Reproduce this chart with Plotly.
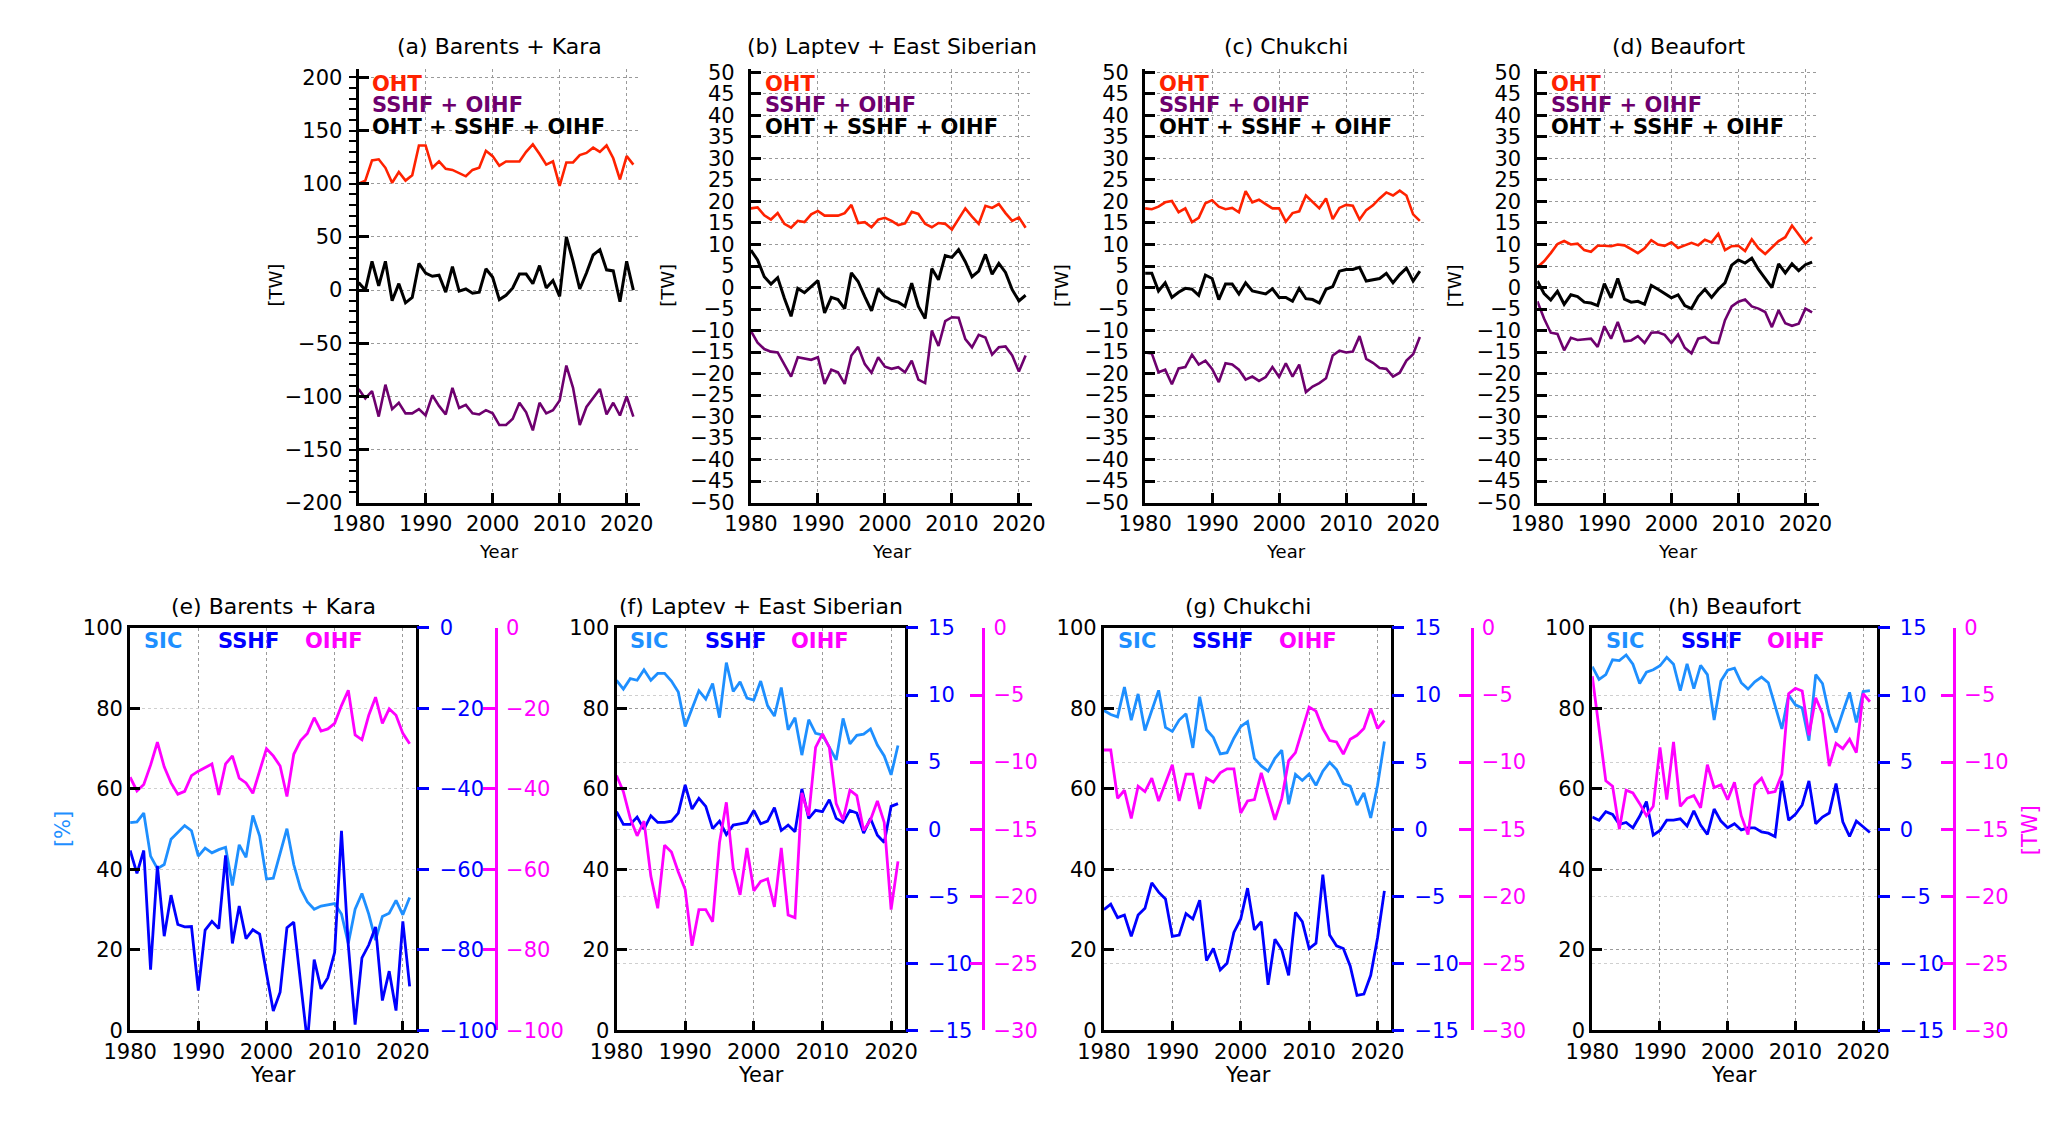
import plotly.graph_objects as go

# ---------------- data ----------------
years = list(range(1980, 2022))

# top row, [TW]
a_oht = [100, 103, 122, 123, 115, 101, 111, 103, 108, 136, 136, 115, 121, 114, 113, 110, 107, 113, 115, 131,
         126, 117, 121, 121, 121, 130, 137, 128, 118, 121, 98, 120, 120, 127, 129, 134, 130, 136, 124, 104,
         126, 118]
a_sum = [-93, -102, -95, -119, -89, -112, -106, -116, -116, -112, -118, -99, -109, -117, -92, -111, -108, -116, -117, -113,
         -116, -127, -127, -121, -106, -115, -132, -106, -116, -113, -104, -71, -92, -127, -110, -101, -93, -117, -106, -118,
         -100, -119]
a_tot = [7, 0, 27, 4, 27, -10, 6, -12, -7, 25, 16, 13, 14, -2, 22, -1, 1, -3, -2, 20,
         12, -9, -5, 2, 15, 15, 6, 23, 2, 9, -6, 50, 27, 1, 16, 33, 38, 19, 18, -11,
         27, 0]

b_oht = [18.4, 18.6, 16.8, 15.8, 17.3, 14.8, 13.9, 15.5, 15.2, 17.0, 17.8, 16.7, 16.7, 16.7, 17.3, 19.2, 15.0, 15.2, 14.0, 15.8,
         16.2, 15.5, 14.5, 14.9, 17.6, 17.1, 14.8, 14.0, 15.0, 14.8, 13.5, 15.8, 18.4, 16.5, 14.8, 19.0, 18.5, 19.4, 17.3, 15.5,
         16.3, 13.9]
b_sum = [-10.1, -12.8, -14.3, -14.9, -15.1, -17.8, -20.7, -16.2, -16.5, -16.8, -16.2, -22.4, -19.1, -19.7, -22.4, -15.8, -13.8, -17.8, -19.8, -16.2,
         -18.4, -18.9, -18.5, -19.7, -17.0, -21.4, -22.2, -10.0, -13.6, -7.8, -6.9, -7.0, -12.0, -13.9, -11.0, -11.6, -15.6, -13.9, -13.7, -15.8,
         -19.5, -15.8]
b_tot = [8.7, 6.4, 2.5, 0.8, 2.3, -2.5, -6.7, -0.2, -1.2, 0.2, 1.6, -5.9, -2.3, -2.8, -4.9, 3.4, 1.4, -2.1, -5.4, -0.3,
         -2.1, -3.0, -3.4, -4.4, 1.0, -4.4, -7.2, 4.4, 1.8, 7.4, 7.0, 8.8, 6.0, 2.5, 3.8, 7.7, 3.1, 5.6, 3.5, -0.5,
         -3.1, -1.8]

c_oht = [18.4, 18.2, 18.8, 19.8, 20.1, 17.5, 18.4, 15.2, 16.2, 19.6, 20.3, 18.8, 18.2, 18.5, 17.5, 22.4, 19.8, 20.4, 19.4, 18.4,
         18.4, 15.3, 17.3, 17.7, 21.4, 19.9, 18.4, 20.7, 15.9, 18.5, 19.2, 19.0, 15.8, 18.0, 19.1, 20.7, 22.1, 21.4, 22.5, 21.4,
         17.0, 15.5]
c_sum = [-15.1, -15.3, -19.7, -19.1, -22.5, -18.8, -18.5, -15.6, -17.9, -17.0, -18.9, -22.0, -17.6, -17.9, -19.1, -21.4, -20.7, -21.7, -20.8, -18.5,
         -20.8, -17.6, -20.7, -17.9, -24.3, -23.0, -22.2, -21.1, -15.8, -14.7, -15.1, -14.9, -11.3, -16.6, -17.5, -18.7, -18.9, -20.7, -19.8, -17.0,
         -15.5, -11.5]
c_tot = [3.3, 3.3, -0.8, 1.1, -2.3, -1.1, -0.2, -0.4, -1.8, 2.9, 2.1, -2.8, 0.8, 0.8, -1.5, 1.1, -0.8, -1.1, -1.5, -0.3,
         -2.3, -2.3, -3.2, -0.2, -2.6, -2.8, -3.6, -0.4, 0.2, 3.8, 4.2, 4.2, 4.7, 1.5, 1.8, 2.1, 3.3, 1.1, 3.0, 4.5,
         1.5, 3.8]

d_oht = [4.7, 6.1, 8.0, 10.1, 10.8, 10.0, 10.2, 8.7, 8.3, 9.7, 9.7, 9.6, 10.0, 9.8, 8.9, 8.0, 9.1, 11.0, 10.0, 9.7,
         10.5, 9.2, 9.8, 10.4, 9.8, 11.1, 10.5, 12.5, 8.7, 9.6, 9.7, 8.5, 11.2, 9.1, 7.8, 9.2, 10.8, 11.7, 14.4, 12.3,
         10.2, 11.7]
d_sum = [-3.2, -7.2, -10.5, -10.8, -14.6, -11.7, -12.2, -12.1, -11.9, -13.8, -9.0, -11.9, -8.0, -12.5, -12.3, -11.3, -12.9, -10.5, -10.4, -11.0,
         -12.9, -10.9, -14.0, -15.3, -11.9, -11.5, -12.8, -12.9, -7.6, -4.4, -3.3, -2.8, -4.4, -4.9, -5.7, -9.2, -5.3, -8.3, -8.9, -8.4,
         -4.9, -5.8]
d_tot = [1.5, -1.4, -2.9, -0.9, -3.9, -1.7, -2.1, -3.4, -3.6, -4.2, 0.9, -2.4, 2.1, -2.7, -3.4, -3.2, -3.9, 0.5, -0.4, -1.4,
         -2.4, -1.7, -4.2, -4.9, -2.1, -0.4, -2.3, -0.4, 1.1, 5.2, 6.4, 5.7, 6.8, 4.2, 2.1, 0.0, 5.5, 3.4, 5.5, 3.9,
         5.3, 5.9]

# bottom row: SIC [%], SSHF and OIHF [TW]
e_sic = [51.6, 51.8, 54.0, 43.3, 40.2, 41.2, 47.5, 49.1, 50.9, 49.6, 43.3, 45.3, 44.1, 44.9, 45.5, 36.0, 46.1, 43.0, 53.4, 48.3,
         37.6, 37.8, 43.9, 50.1, 41.2, 35.2, 31.9, 30.1, 30.9, 31.2, 31.5, 28.9, 21.6, 30.1, 34.0, 28.9, 22.4, 28.3, 29.1, 32.3,
         28.7, 33.0]
e_sshf = [-55.3, -61.0, -55.3, -84.9, -59.1, -76.6, -66.4, -73.7, -74.3, -74.2, -90.1, -75.1, -72.9, -74.7, -56.5, -78.4, -69.1, -77.2, -75.0, -76.1,
          -85.8, -95.2, -90.5, -74.5, -73.1, -88.0, -103.0, -82.4, -89.7, -86.9, -80.6, -50.4, -78.8, -98.6, -82.0, -78.8, -74.3, -92.6, -85.3, -95.1,
          -72.9, -89.1]
e_oihf = [-37.1, -40.5, -38.9, -34.1, -28.4, -34.5, -38.5, -41.3, -40.6, -36.7, -35.6, -34.8, -33.8, -41.5, -33.8, -31.8, -37.3, -38.5, -41.1, -35.5,
          -30.0, -31.8, -34.3, -41.9, -31.4, -28.0, -26.2, -22.3, -25.6, -25.1, -23.7, -19.3, -15.5, -26.6, -27.8, -21.7, -17.2, -23.7, -20.1, -21.7,
          -26.2, -28.8]

f_sic = [87.0, 84.8, 87.4, 87.0, 89.6, 87.0, 88.7, 88.7, 86.8, 84.1, 75.5, 79.9, 84.4, 82.3, 86.2, 77.7, 91.4, 84.2, 86.6, 82.6,
         82.1, 86.8, 80.7, 78.1, 85.2, 74.7, 77.7, 68.4, 77.2, 73.8, 73.4, 70.4, 67.2, 77.5, 71.2, 73.3, 73.6, 74.9, 70.9, 68.2,
         63.5, 70.8]
f_sshf = [1.3, 0.35, 0.35, 0.9, 0.0, 1.0, 0.5, 0.5, 0.6, 1.2, 3.3, 1.5, 2.3, 1.7, 0.04, 0.6, -0.4, 0.3, 0.4, 0.5,
          1.4, 0.4, 0.6, 1.6, -0.1, 0.3, -0.2, 3.0, 0.8, 1.4, 1.3, 2.2, 0.8, 0.5, 1.4, 1.2, -0.3, 0.8, -0.45, -1.0,
          1.7, 1.9]
f_oihf = [-11.0, -12.2, -14.2, -15.5, -14.4, -18.5, -20.9, -16.2, -16.7, -18.2, -19.5, -23.7, -21.0, -21.0, -21.9, -16.0, -13.0, -17.9, -19.9, -16.4,
          -19.6, -18.9, -18.7, -20.8, -16.4, -21.4, -21.6, -12.3, -14.0, -8.9, -7.9, -8.9, -13.1, -14.3, -12.1, -12.5, -15.1, -14.3, -12.9, -14.5,
          -21.0, -17.4]

g_sic = [79.5, 78.5, 77.9, 85.3, 77.1, 83.6, 74.5, 79.5, 84.5, 75.3, 74.3, 77.1, 78.7, 70.2, 82.9, 74.7, 72.8, 68.7, 69.0, 72.6,
         75.5, 76.7, 67.6, 65.7, 64.4, 67.6, 69.6, 56.2, 63.6, 62.1, 63.7, 60.9, 64.4, 66.6, 64.8, 61.3, 60.7, 56.0, 59.0, 52.8,
         60.9, 71.8]
g_sshf = [-6.0, -5.6, -6.6, -6.4, -8.0, -6.4, -5.9, -4.0, -4.7, -5.2, -8.0, -7.9, -6.3, -6.7, -5.3, -9.8, -8.9, -10.5, -10.0, -7.7,
          -6.7, -4.4, -7.5, -6.9, -11.6, -8.2, -9.0, -10.9, -6.2, -6.9, -8.9, -8.5, -3.4, -7.9, -8.7, -8.9, -10.2, -12.4, -12.3, -10.9,
          -8.1, -4.6]
g_oihf = [-9.1, -9.1, -12.7, -12.1, -14.2, -11.8, -12.2, -11.2, -12.9, -11.5, -10.2, -12.9, -10.9, -10.9, -13.5, -11.2, -11.5, -10.8, -10.5, -10.5,
          -13.8, -12.9, -12.8, -10.8, -12.5, -14.3, -12.7, -9.9, -9.3, -7.5, -5.9, -6.2, -7.5, -8.4, -8.5, -9.4, -8.3, -8.0, -7.5, -6.0,
          -7.5, -6.9]

h_sic = [90.4, 87.2, 88.4, 92.1, 91.9, 93.3, 91.0, 86.2, 89.0, 89.6, 90.6, 92.7, 91.0, 84.4, 91.1, 84.9, 90.7, 88.4, 77.1, 86.8,
         89.5, 90.0, 86.4, 84.8, 86.6, 87.8, 86.4, 80.7, 74.9, 83.3, 80.9, 80.1, 72.0, 88.4, 86.2, 78.5, 74.0, 79.1, 84.0, 76.5,
         84.2, 84.4]
h_sshf = [0.9, 0.67, 1.3, 1.1, 0.35, 0.5, 0.1, 0.96, 2.05, -0.45, -0.1, 0.67, 0.67, 0.77, 0.23, 1.37, 0.3, -0.4, 1.5, 0.6,
          0.1, 0.4, -0.06, 0.1, 0.1, -0.2, -0.3, -0.55, 3.6, 0.67, 1.1, 1.8, 3.6, 0.4, 0.9, 1.2, 3.4, 0.55, -0.55, 0.6,
          0.18, -0.25]
h_oihf = [-3.6, -7.6, -11.4, -11.8, -15.0, -12.1, -12.3, -13.1, -14.0, -13.3, -8.9, -12.8, -8.5, -13.3, -12.7, -12.5, -13.4, -10.2, -11.9, -11.7,
          -12.8, -11.5, -14.0, -15.4, -11.7, -11.2, -12.3, -12.2, -10.9, -4.9, -4.5, -4.7, -8.0, -5.2, -6.4, -10.3, -8.6, -9.0, -8.3, -9.3,
          -4.9, -5.5]

top_titles = ['(a) Barents + Kara', '(b) Laptev + East Siberian', '(c) Chukchi', '(d) Beaufort']
bot_titles = ['(e) Barents + Kara', '(f) Laptev + East Siberian', '(g) Chukchi', '(h) Beaufort']
year_ticks = [1980, 1990, 2000, 2010, 2020]

# ---------------- style ----------------
W, H = 2067, 1143
RED = '#ff2200'
PURPLE = '#6e006e'
SIC_C = '#1e8fff'
SSHF_C = '#0000ff'
OIHF_C = '#ff00ff'
GRID = '#9a9a9a'
GRID2 = '#cfcfcf'
FONT = 'DejaVu Sans'


def px(p):
    return p / W


def py(p):
    return 1 - p / H


def sfx(k):
    return '' if k == 1 else str(k)


fig = go.Figure()
layout = {}
ann = []

# ---------------- top row ----------------
top_left = [330, 730, 1132, 1532]
top_w = 287
top_data = [(a_oht, a_sum, a_tot), (b_oht, b_sum, b_tot), (c_oht, c_sum, c_tot), (d_oht, d_sum, d_tot)]
top_range = [[-200, 208], [-50, 50.8], [-50, 50.8], [-50, 50.8]]
top_dtick = [50, 5, 5, 5]

for i in range(4):
    k = i + 1
    L = top_left[i]
    oht, ssum, tot = top_data[i]
    for vals, col, w in [(oht, RED, 2.6), (ssum, PURPLE, 2.6), (tot, 'black', 3)]:
        fig.add_trace(go.Scatter(x=years, y=vals, mode='lines', line=dict(color=col, width=w),
                                 xaxis='x' + sfx(k), yaxis='y' + sfx(k), showlegend=False))
    layout['xaxis' + sfx(k)] = dict(
        domain=[px(L), px(L + top_w)], anchor='y' + sfx(k), range=[1980, 2022],
        tickvals=year_ticks, ticks='inside', ticklen=10, tickwidth=3, tickcolor='black',
        showline=True, linewidth=3, linecolor='black', mirror=False,
        showgrid=True, gridcolor=GRID, griddash='dot', gridwidth=1,
        zeroline=False, tickfont=dict(size=21, color='black'))
    yax = dict(
        domain=[py(493), py(50)], anchor='x' + sfx(k), range=top_range[i],
        dtick=top_dtick[i], tick0=0, ticks='inside', ticklen=10, tickwidth=3, tickcolor='black',
        showline=True, linewidth=3, linecolor='black', ticklabelstandoff=9,
        showgrid=True, gridcolor=GRID, griddash='dot', gridwidth=1,
        zeroline=False, tickfont=dict(size=21, color='black'))
    if i == 0:
        yax['minor'] = dict(dtick=10, ticks='outside', ticklen=7, tickwidth=2, tickcolor='black', showgrid=False)
    layout['yaxis' + sfx(k)] = yax

    ann.append(dict(x=px(L + top_w / 2), y=py(27), text=top_titles[i], font=dict(size=22)))
    ann.append(dict(x=px(L + top_w / 2), y=py(543), text='Year', font=dict(size=18)))
    ann.append(dict(x=px(L - 85), y=py(271), text='[TW]', textangle=-90, font=dict(size=18)))
    ann.append(dict(x=px(L + 12), y=py(65), text='<b>OHT</b>', xanchor='left', font=dict(size=21, color=RED)))
    ann.append(dict(x=px(L + 12), y=py(87), text='<b>SSHF + OIHF</b>', xanchor='left', font=dict(size=21, color=PURPLE)))
    ann.append(dict(x=px(L + 12), y=py(109), text='<b>OHT + SSHF + OIHF</b>', xanchor='left', font=dict(size=21, color='black')))

# ---------------- bottom row ----------------
bot_left = [97, 593, 1090, 1588]
bot_right = [389, 887, 1383, 1878]
mag_pos = [470, 967, 1465, 1957]
bot_data = [(e_sic, e_sshf, e_oihf), (f_sic, f_sshf, f_oihf), (g_sic, g_sshf, g_oihf), (h_sic, h_sshf, h_oihf)]
sshf_range = [[-100, 0], [-15, 15], [-15, 15], [-15, 15]]
sshf_dtick = [20, 5, 5, 5]
oihf_range = [[-100, 0], [-30, 0], [-30, 0], [-30, 0]]
oihf_dtick = [20, 5, 5, 5]

for i in range(4):
    xn = 5 + i
    ys, yb, ym = 5 + 3 * i, 6 + 3 * i, 7 + 3 * i
    L, R = bot_left[i], bot_right[i]
    sic, sshf, oihf = bot_data[i]
    fig.add_trace(go.Scatter(x=years, y=sic, mode='lines', line=dict(color=SIC_C, width=2.8),
                             xaxis=f'x{xn}', yaxis=f'y{ys}', showlegend=False))
    fig.add_trace(go.Scatter(x=years, y=sshf, mode='lines', line=dict(color=SSHF_C, width=2.8),
                             xaxis=f'x{xn}', yaxis=f'y{yb}', showlegend=False))
    fig.add_trace(go.Scatter(x=years, y=oihf, mode='lines', line=dict(color=OIHF_C, width=2.8),
                             xaxis=f'x{xn}', yaxis=f'y{ym}', showlegend=False))

    layout[f'xaxis{xn}'] = dict(
        domain=[px(L), px(R)], anchor=f'y{ys}', range=[1980, 2022],
        tickvals=year_ticks, ticks='inside', ticklen=9, tickwidth=3, tickcolor='black',
        showline=True, linewidth=3, linecolor='black', mirror=True,
        showgrid=True, gridcolor=GRID, griddash='dot', gridwidth=1,
        zeroline=False, tickfont=dict(size=21, color='black'))
    layout[f'yaxis{ys}'] = dict(
        domain=[py(1032), py(621)], anchor=f'x{xn}', range=[0, 100], dtick=20,
        ticks='inside', ticklen=10, tickwidth=3, tickcolor='black',
        showline=True, linewidth=3, linecolor='black', mirror=True,
        showgrid=True, gridcolor=GRID, griddash='dot', gridwidth=1,
        zeroline=False, tickfont=dict(size=21, color='black'))
    layout[f'yaxis{yb}'] = dict(
        overlaying=f'y{ys}', side='right', anchor=f'x{xn}', range=sshf_range[i], dtick=sshf_dtick[i],
        ticks='outside', ticklen=12, tickwidth=3, tickcolor=SSHF_C, ticklabelstandoff=6,
        showline=False, showgrid=True, gridcolor=GRID2, griddash='dot', gridwidth=1,
        zeroline=False, tickfont=dict(size=21, color=SSHF_C))
    layout[f'yaxis{ym}'] = dict(
        overlaying=f'y{ys}', side='right', anchor='free', position=px(mag_pos[i]),
        range=oihf_range[i], dtick=oihf_dtick[i],
        ticks='inside', ticklen=12, tickwidth=3, tickcolor=OIHF_C, ticklabelstandoff=4,
        showline=True, linewidth=3, linecolor=OIHF_C, showgrid=False,
        zeroline=False, tickfont=dict(size=21, color=OIHF_C))

    ann.append(dict(x=px((L + R) / 2), y=py(599), text=bot_titles[i], font=dict(size=22)))
    ann.append(dict(x=px((L + R) / 2), y=py(1078), text='Year', font=dict(size=21)))
    ann.append(dict(x=px(L + 12), y=py(634), text='<b>SIC</b>', xanchor='left', font=dict(size=21, color=SIC_C)))
    ann.append(dict(x=px(L + 88), y=py(634), text='<b>SSHF</b>', xanchor='left', font=dict(size=21, color=SSHF_C)))
    ann.append(dict(x=px(L + 176), y=py(634), text='<b>OIHF</b>', xanchor='left', font=dict(size=21, color=OIHF_C)))

ann.append(dict(x=px(28), y=py(826), text='[%]', textangle=-90, font=dict(size=21, color=SIC_C)))
ann.append(dict(x=px(2034), y=py(828), text='[TW]', textangle=-90, font=dict(size=21, color=OIHF_C)))

for a in ann:
    a.update(xref='paper', yref='paper', showarrow=False)
    a.setdefault('xanchor', 'center')
    a.setdefault('yanchor', 'middle')

fig.update_layout(
    width=W, height=H,
    margin=dict(l=0, r=0, t=0, b=0),
    paper_bgcolor='white', plot_bgcolor='white',
    font=dict(family=FONT, color='black'),
    showlegend=False,
    annotations=ann,
    **layout
)

fig.write_html("out.html")
